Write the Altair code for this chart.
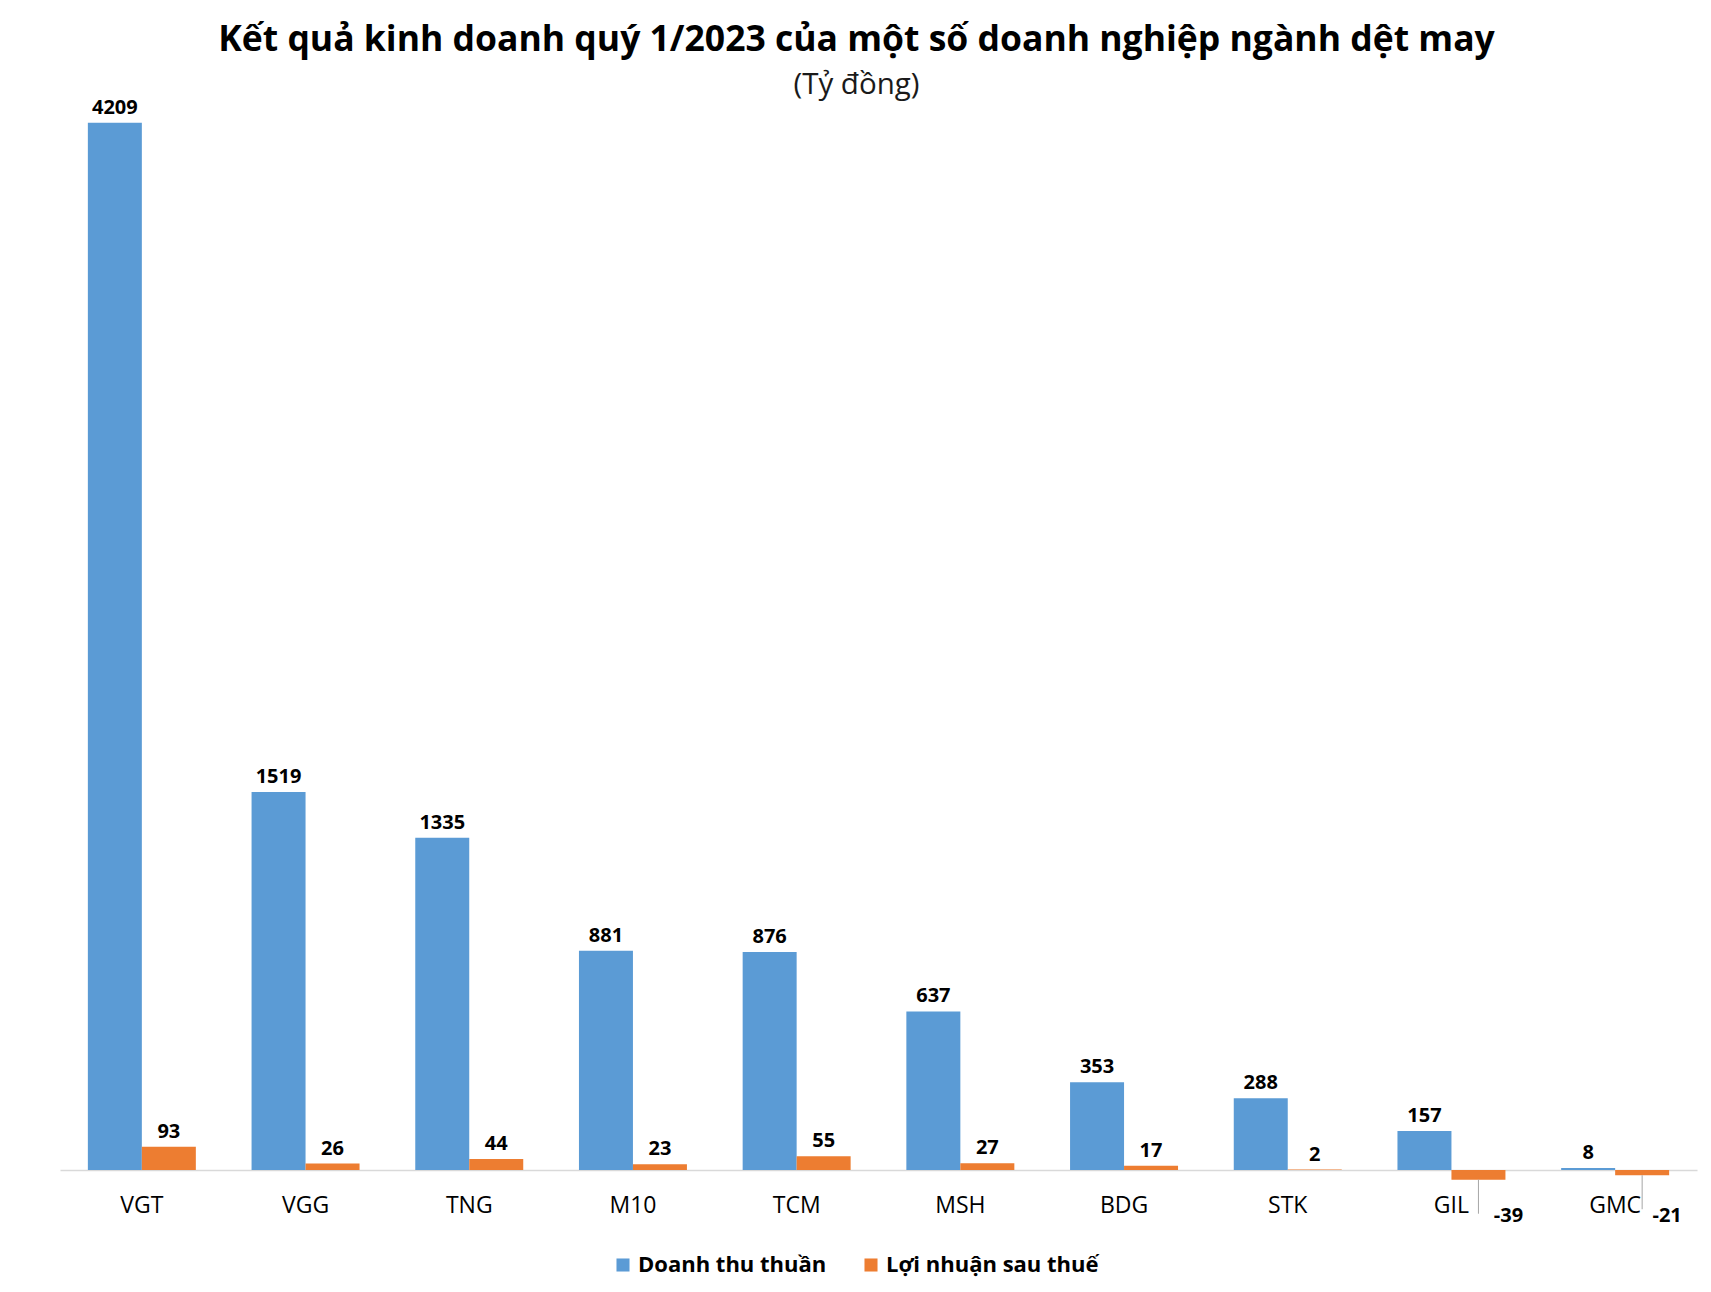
import altair as alt
import pandas as pd

companies = ["VGT", "VGG", "TNG", "M10", "TCM", "MSH", "BDG", "STK", "GIL", "GMC"]
revenue = [4209, 1519, 1335, 881, 876, 637, 353, 288, 157, 8]
profit = [93, 26, 44, 23, 55, 27, 17, 2, -39, -21]
series = ["Doanh thu thuần", "Lợi nhuận sau thuế"]
colors = ["#5B9BD5", "#ED7D31"]

FONT = "Open Sans"
W, H = 1637, 1070
YMAX = 4300
PX = H / YMAX

rows = []
for c, r, p in zip(companies, revenue, profit):
    rows.append({"company": c, "series": series[0], "value": r, "label": str(r)})
    rows.append({"company": c, "series": series[1], "value": p, "label": str(p)})
df = pd.DataFrame(rows)
df["lead_end"] = df["value"] - 34 / PX

x = alt.X("company:N", sort=companies,
          scale=alt.Scale(paddingInner=0, paddingOuter=0),
          axis=alt.Axis(title=None, labelAngle=0, ticks=False, domainColor="#d9d9d9",
                        domainWidth=1.3, labelFont=FONT, labelFontSize=23,
                        labelColor="#000000", labelPadding=24))
xo = alt.XOffset("series:N", sort=series,
                 scale=alt.Scale(paddingInner=0, paddingOuter=0.516))
y = alt.Y("value:Q", scale=alt.Scale(domain=[0, YMAX], nice=False, zero=True), axis=None)

base = alt.Chart(df)

bars = base.mark_bar().encode(
    x=x, xOffset=xo, y=y,
    color=alt.Color("series:N", sort=series,
                    scale=alt.Scale(domain=series, range=colors),
                    legend=alt.Legend(title=None, orient="none", legendX=552, legendY=1154,
                                      direction="horizontal", symbolType="square",
                                      symbolSize=170, symbolStrokeWidth=0,
                                      labelFont=FONT, labelFontSize=22,
                                      labelFontWeight="bold", labelColor="#000000",
                                      columnPadding=33, labelLimit=400)),
)

pos_labels = base.transform_filter("datum.value >= 0").mark_text(
    baseline="bottom", dy=-5, font=FONT, fontSize=20, fontWeight="bold", color="#000000"
).encode(x=x, xOffset=xo, y=y, text="label:N")

leaders = base.transform_filter("datum.value < 0").mark_rule(
    color="#a6a6a6", strokeWidth=1
).encode(x=x, xOffset=xo, y=y, y2="lead_end:Q")

neg_gil = base.transform_filter("datum.value < 0 && datum.company == 'GIL'").mark_text(
    baseline="middle", dx=30, dy=36, font=FONT, fontSize=20, fontWeight="bold", color="#000000"
).encode(x=x, xOffset=xo, y=y, text="label:N")

neg_gmc = base.transform_filter("datum.value < 0 && datum.company == 'GMC'").mark_text(
    baseline="middle", dx=25, dy=41, font=FONT, fontSize=20, fontWeight="bold", color="#000000"
).encode(x=x, xOffset=xo, y=y, text="label:N")

chart = alt.layer(bars, leaders, pos_labels, neg_gil, neg_gmc).properties(
    width=W, height=H,
    autosize=alt.AutoSizeParams(type="none"),
    padding={"left": 52, "top": 92, "right": 6, "bottom": 112},
    title=alt.TitleParams(
        text="Kết quả kinh doanh quý 1/2023 của một số doanh nghiệp ngành dệt may",
        subtitle="(Tỷ đồng)",
        anchor="middle", frame="group", dx=-22, offset=-2,
        font=FONT, fontSize=35.5, fontWeight="bold", color="#000000",
        subtitleFont=FONT, subtitleFontSize=29.5, subtitleColor="#1a1a1a",
        subtitlePadding=13,
    ),
).configure_view(stroke=None)

chart.save("out.html", embed_options={"renderer": "svg", "actions": False})
